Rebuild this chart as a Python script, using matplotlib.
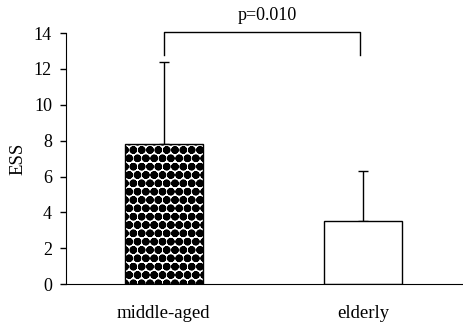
import matplotlib
matplotlib.use("Agg")
import matplotlib.pyplot as plt

plt.rcParams["font.family"] = ["Liberation Serif", "DejaVu Serif"]
plt.rcParams["hatch.linewidth"] = 3.0

groups = ["middle-aged", "elderly"]
means = [7.8, 3.5]
sds = [4.6, 2.8]
p_label = "p=0.010"

fig = plt.figure(figsize=(4.64, 3.25), dpi=100)
ax = fig.add_axes([0.142, 0.126, 0.856, 0.772])

x = [0, 1]
bars = ax.bar(x, means, width=0.39, color="white", edgecolor="black", linewidth=1.0, zorder=2)
bars[0].set_hatch("oo")

ax.errorbar(x, means, yerr=[[0, 0], sds], fmt="none", ecolor="black",
            elinewidth=1.0, capsize=3.5, capthick=1.0, zorder=1)

ax.set_xlim(-0.492, 1.503)
ax.set_ylim(0, 14)
ax.set_yticks(range(0, 15, 2))
ax.set_xticks(x)
ax.set_xticklabels(groups, fontsize=13.5)
ax.tick_params(axis="x", length=0, pad=15)
ax.tick_params(axis="y", length=4, width=1, labelsize=13, pad=6, direction="out")
ax.set_ylabel("ESS", fontsize=13.5, labelpad=5)
for s in ["top", "right"]:
    ax.spines[s].set_visible(False)

# significance bracket
ax.plot([0, 0, 0.985, 0.985], [12.8, 14.05, 14.05, 12.8], color="black", lw=1.0, clip_on=False)
ax.text(0.52, 15.0, p_label, ha="center", va="center", fontsize=13)

fig.savefig("out.png", dpi=100)
